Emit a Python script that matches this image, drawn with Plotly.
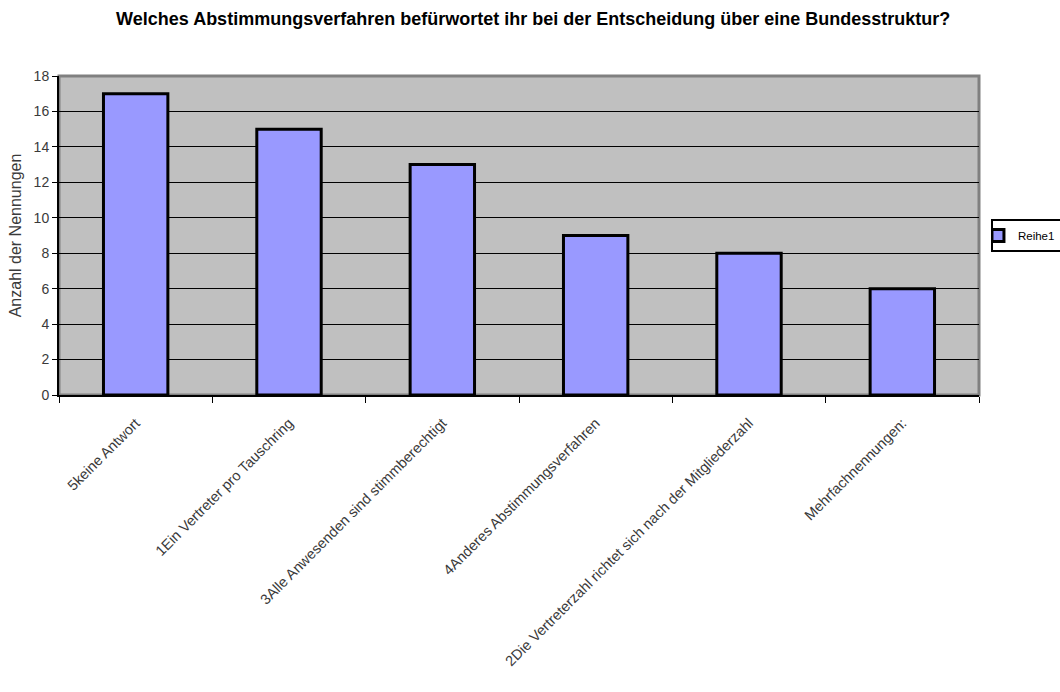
import plotly.graph_objects as go

categories = [
    "5keine Antwort",
    "1Ein Vertreter pro Tauschring",
    "3Alle Anwesenden sind stimmberechtigt",
    "4Anderes Abstimmungsverfahren",
    "2Die Vertreterzahl richtet sich nach der Mitgliederzahl",
    "Mehrfachnennungen:",
]
values = [17, 15, 13, 9, 8, 6]
y_ticks = [0, 2, 4, 6, 8, 10, 12, 14, 16, 18]
series_name = "Reihe1"
title_text = "Welches Abstimmungsverfahren befürwortet ihr bei der Entscheidung über eine Bundesstruktur?"
y_title = "Anzahl der Nennungen"

FONT = "Liberation Sans, Arial, sans-serif"
TXT = "#3a3a3a"

fig = go.Figure()
fig.add_trace(go.Bar(
    x=categories,
    y=values,
    name=series_name,
    width=0.42,
    marker=dict(color="#9999FF", line=dict(color="black", width=3)),
    showlegend=True,
))

fig.update_layout(
    width=1060,
    height=692,
    margin=dict(l=59, r=81, t=76, b=297, autoexpand=False),
    paper_bgcolor="white",
    plot_bgcolor="#C0C0C0",
    font=dict(family=FONT, size=12, color="black"),
    title=dict(
        text="<b>" + title_text + "</b>",
        x=0.503, xanchor="center",
        y=1 - 19 / 692, yanchor="middle",
        font=dict(family=FONT, size=18, color="black"),
    ),
    showlegend=True,
    legend=dict(
        x=1.013, xanchor="left",
        y=0.5, yanchor="middle",
        bordercolor="black", borderwidth=2,
        bgcolor="white",
        font=dict(family=FONT, size=11.5, color="black"),
        itemwidth=30,
        indentation=-15,
    ),
    shapes=[dict(
        type="rect", xref="paper", yref="paper", x0=0, y0=0, x1=1, y1=1,
        line=dict(color="#808080", width=3), layer="below",
    )],
)

fig.update_xaxes(
    type="category",
    tickangle=-45,
    tickson="boundaries",
    ticks="outside",
    ticklen=6,
    tickcolor="black",
    showline=True,
    linecolor="black",
    linewidth=2,
    showgrid=False,
    ticklabelstandoff=12,
    tickfont=dict(family=FONT, size=14.5, color=TXT),
)

fig.update_yaxes(
    range=[0, 18],
    tickvals=y_ticks,
    ticks="outside",
    ticklen=5,
    tickcolor="black",
    showline=True,
    linecolor="black",
    linewidth=2,
    showgrid=True,
    gridcolor="black",
    gridwidth=1,
    zeroline=False,
    tickfont=dict(family=FONT, size=14, color=TXT),
    title=dict(text=y_title, font=dict(family=FONT, size=16, color=TXT), standoff=8),
)

fig.write_html("out.html")
